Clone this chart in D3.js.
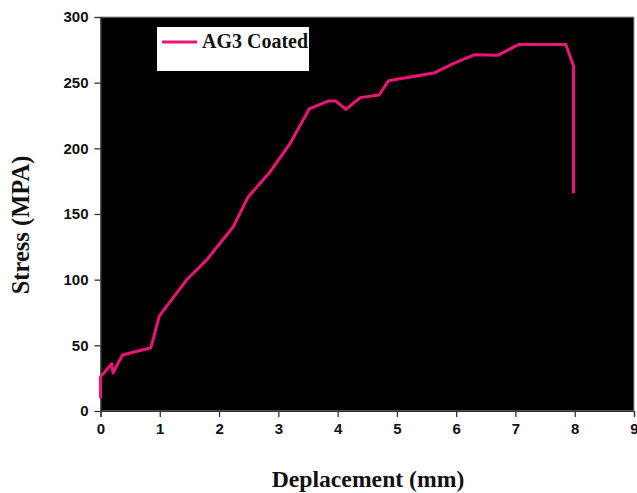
<!DOCTYPE html>
<html>
<head>
<meta charset="utf-8">
<script src="https://cdn.jsdelivr.net/npm/d3@7/dist/d3.min.js"></script>
<style>
  html, body { margin: 0; padding: 0; background: #fff; }
  svg { display: block; }
</style>
</head>
<body>
<script>
// Stress–displacement curve for the AG3 coated specimen
const displacement = [0, 0, 0.19, 0.21, 0.37, 0.85, 0.93, 0.99, 1.45, 1.79, 2.24, 2.49, 2.86, 3.2, 3.52, 3.84, 3.97, 4.14, 4.38, 4.7, 4.86, 5.64, 5.95, 6.31, 6.7, 7.05, 7.85, 7.98, 7.98];
const stress       = [9.7, 26, 36, 29, 42.6, 48.2, 61.7, 72.3, 99.7, 115, 140.3, 163, 182, 203.8, 230, 236, 236, 229.7, 238.6, 240.6, 251.5, 257.6, 264.5, 271.3, 270.8, 279, 279, 262.7, 165.8];
const seriesName = "AG3 Coated";
const xTicks = [0, 1, 2, 3, 4, 5, 6, 7, 8, 9];
const yTicks = [0, 50, 100, 150, 200, 250, 300];

const W = 637, H = 493;
const margin = { left: 100.5, right: 3, top: 17, bottom: 82 };

const svg = d3.select("body").append("svg").attr("width", W).attr("height", H);

const x = d3.scaleLinear().domain([0, 9]).range([margin.left, W - margin.right]);
const y = d3.scaleLinear().domain([0, 300]).range([H - margin.bottom, margin.top]);

// plot background
svg.append("rect")
  .attr("x", x(0)).attr("y", y(300))
  .attr("width", x(9) - x(0)).attr("height", y(0) - y(300))
  .attr("fill", "#000")
  .attr("stroke", "#999").attr("stroke-width", 1);

// axes
const xAxis = svg.append("g")
  .attr("transform", `translate(0,${y(0)})`)
  .call(d3.axisBottom(x).tickValues(xTicks).tickFormat(d3.format("d")).tickSizeOuter(0).tickSize(6).tickPadding(6));
const yAxis = svg.append("g")
  .attr("transform", `translate(${x(0)},0)`)
  .call(d3.axisLeft(y).tickValues(yTicks).tickFormat(d3.format("d")).tickSizeOuter(0).tickSize(6).tickPadding(6));

[xAxis, yAxis].forEach(g => {
  g.select(".domain").attr("stroke", "#333").attr("stroke-width", 1.2);
  g.selectAll(".tick line").attr("stroke", "#333").attr("stroke-width", 1.3);
  g.selectAll(".tick text")
    .attr("fill", "#111")
    .style("font-family", "'Liberation Sans', Arial, sans-serif")
    .style("font-weight", "bold")
    .style("font-size", "15px");
});

// curve
const pts = displacement.map((d, i) => [d, stress[i]]);
svg.append("path")
  .datum(pts)
  .attr("fill", "none")
  .attr("stroke", "#ec1478")
  .attr("stroke-width", 3)
  .attr("stroke-linejoin", "round")
  .attr("d", d3.line().x(d => x(d[0])).y(d => y(d[1])));

// legend
const lg = svg.append("g");
lg.append("rect")
  .attr("x", 157).attr("y", 27).attr("width", 152).attr("height", 44)
  .attr("fill", "#fff");
lg.append("line")
  .attr("x1", 162).attr("x2", 197).attr("y1", 42).attr("y2", 42)
  .attr("stroke", "#ec1478").attr("stroke-width", 3);
lg.append("text")
  .attr("x", 202).attr("y", 48)
  .style("font-family", "'Liberation Serif', 'Times New Roman', serif")
  .style("font-weight", "bold")
  .style("font-size", "20px")
  .attr("fill", "#111")
  .text(seriesName);

// axis titles
svg.append("text")
  .attr("x", 368).attr("y", 487)
  .attr("text-anchor", "middle")
  .style("font-family", "'Liberation Serif', 'Times New Roman', serif")
  .style("font-weight", "bold")
  .style("font-size", "23.7px")
  .attr("fill", "#111")
  .text("Deplacement (mm)");

svg.append("text")
  .attr("transform", "translate(29,225) rotate(-90)")
  .attr("text-anchor", "middle")
  .style("font-family", "'Liberation Serif', 'Times New Roman', serif")
  .style("font-weight", "bold")
  .style("font-size", "24.5px")
  .attr("fill", "#111")
  .text("Stress (MPA)");
</script>
</body>
</html>
